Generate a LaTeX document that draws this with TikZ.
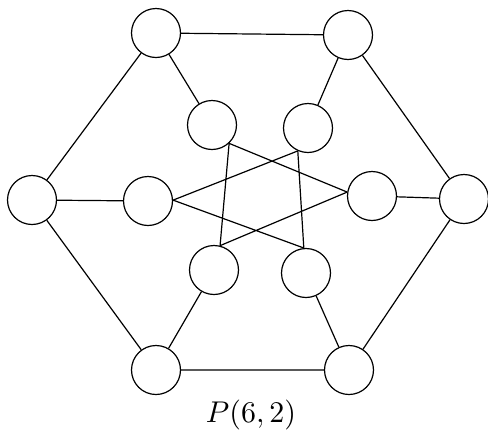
\documentclass[tikz,border=0pt]{standalone}
\begin{document}
\begin{tikzpicture}[x=1pt,y=-1pt,
  vtx/.style={circle,draw,line width=1.2pt,minimum size=49pt,inner sep=0pt,fill=white},
  edge/.style={line width=1.2pt}]
\useasboundingbox (0,0) rectangle (488,432);
% outer hexagon vertices
\node[vtx] (o1) at (348,35) {};
\node[vtx] (o2) at (156,33) {};
\node[vtx] (o3) at (32,200) {};
\node[vtx] (o4) at (156,370) {};
\node[vtx] (o5) at (349,370) {};
\node[vtx] (o6) at (464,199) {};
% inner star vertices
\node[vtx] (i1) at (308,128) {};
\node[vtx] (i2) at (212,125) {};
\node[vtx] (i3) at (148,201) {};
\node[vtx] (i4) at (214,270) {};
\node[vtx] (i5) at (306,273) {};
\node[vtx] (i6) at (372,196) {};
% attachment points of the star edges
\coordinate (p1) at (i1.-114);
\coordinate (p2) at (i2.-47);
\coordinate (p3) at (i3.2);
\coordinate (p4) at (i4.76);
\coordinate (p5) at (i5.95);
\coordinate (p6) at (i6.171);
% outer cycle
\draw[edge] (o1) -- (o2) (o2) -- (o3) (o3) -- (o4)
            (o4) -- (o5) (o5) -- (o6) (o6) -- (o1);
% spokes
\draw[edge] (o1) -- (i1) (o2) -- (i2) (o3) -- (i3)
            (o4) -- (i4) (o5) -- (i5) (o6) -- (i6);
% inner edges u_i -- u_{i+2}
\draw[edge] (p1) -- (p3) (p3) -- (p5) (p5) -- (p1)
            (p2) -- (p4) (p4) -- (p6) (p6) -- (p2);
\node[scale=3,inner sep=0pt] (lbl) at (251,415) {$P(6,2)$};
\end{tikzpicture}
\end{document}
